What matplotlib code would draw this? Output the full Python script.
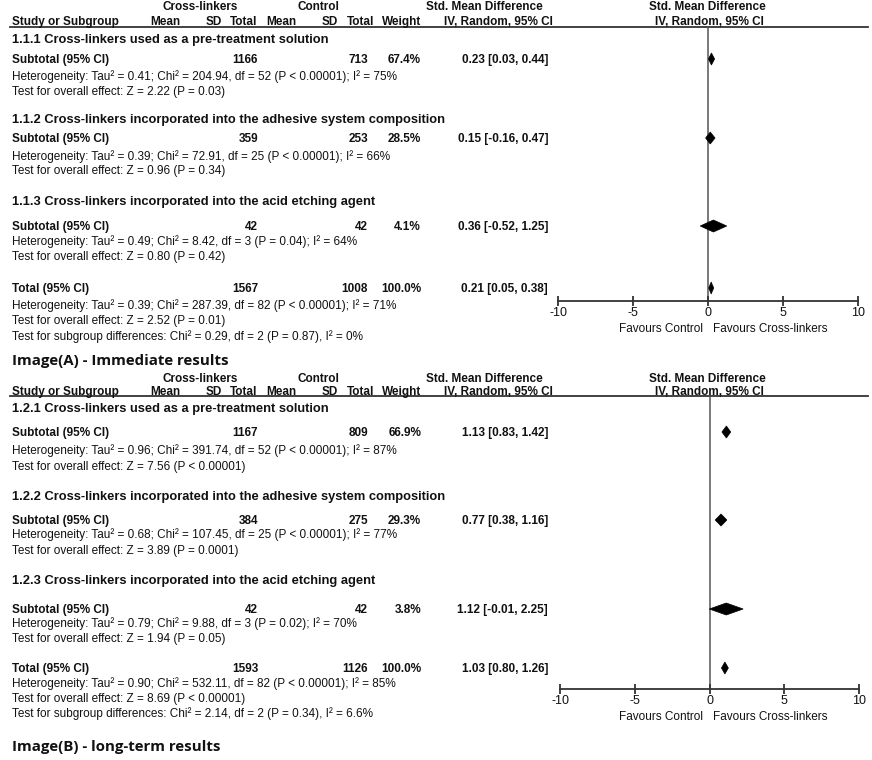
import matplotlib
matplotlib.use("Agg")
import matplotlib.pyplot as plt
from matplotlib.patches import Polygon

plt.rcParams['font.family'] = 'Liberation Sans'

# ---------------- data ----------------
groups_A = ["1.1.1 Cross-linkers used as a pre-treatment solution",
            "1.1.2 Cross-linkers incorporated into the adhesive system composition",
            "1.1.3 Cross-linkers incorporated into the acid etching agent"]
n_exp_A = [1166, 359, 42]
n_ctl_A = [713, 253, 42]
weight_A = [67.4, 28.5, 4.1]
smd_A = [0.23, 0.15, 0.36]
lo_A = [0.03, -0.16, -0.52]
hi_A = [0.44, 0.47, 1.25]
tau2_A = [0.41, 0.39, 0.49]
chi2_A = [204.94, 72.91, 8.42]
df_A = [52, 25, 3]
phet_A = ["P < 0.00001", "P < 0.00001", "P = 0.04"]
i2_A = ["75%", "66%", "64%"]
z_A = [2.22, 0.96, 0.80]
pz_A = ["P = 0.03", "P = 0.34", "P = 0.42"]
total_A = dict(n_exp=1567, n_ctl=1008, weight=100.0, smd=0.21, lo=0.05, hi=0.38,
               tau2=0.39, chi2=287.39, df=82, phet="P < 0.00001", i2="71%",
               z=2.52, pz="P = 0.01", sg="Chi² = 0.29, df = 2 (P = 0.87), I² = 0%")

groups_B = ["1.2.1 Cross-linkers used as a pre-treatment solution",
            "1.2.2 Cross-linkers incorporated into the adhesive system composition",
            "1.2.3 Cross-linkers incorporated into the acid etching agent"]
n_exp_B = [1167, 384, 42]
n_ctl_B = [809, 275, 42]
weight_B = [66.9, 29.3, 3.8]
smd_B = [1.13, 0.77, 1.12]
lo_B = [0.83, 0.38, -0.01]
hi_B = [1.42, 1.16, 2.25]
tau2_B = [0.96, 0.68, 0.79]
chi2_B = [391.74, 107.45, 9.88]
df_B = [52, 25, 3]
phet_B = ["P < 0.00001", "P < 0.00001", "P = 0.02"]
i2_B = ["87%", "77%", "70%"]
z_B = [7.56, 3.89, 1.94]
pz_B = ["P < 0.00001", "P = 0.0001", "P = 0.05"]
total_B = dict(n_exp=1593, n_ctl=1126, weight=100.0, smd=1.03, lo=0.80, hi=1.26,
               tau2=0.90, chi2=532.11, df=82, phet="P < 0.00001", i2="85%",
               z=8.69, pz="P < 0.00001", sg="Chi² = 2.14, df = 2 (P = 0.34), I² = 6.6%")

ticks = [-10, -5, 0, 5, 10]
captions = ["Image(A) - Immediate results", "Image(B) - long-term results"]

# ---------------- layout ----------------
W, H = 872, 760
fig = plt.figure(figsize=(W / 100, H / 100), dpi=100)
bg = fig.add_axes([0, 0, 1, 1])
bg.set_xlim(0, W)
bg.set_ylim(H, 0)
bg.axis('off')

FS = 8.5      # normal text
FB = 8.5      # bold text
FG = 9.3      # group headings
TXT = '#111111'

layouts = [
    dict(h1=6, h2=21, line=27, grp=[38, 118, 200], sub=[59, 138, 226],
         het=[75.5, 155.5, 241], tst=[90.5, 170, 256], tot=288, thet=304.5,
         ttst=320, tsg=336, cap=360, axis=301, x0=558, x1=858,
         fav_y=328),
    dict(h1=378, h2=391, line=396, grp=[407, 495, 579], sub=[432, 520, 609],
         het=[450, 534, 623], tst=[465.5, 550, 638], tot=668, thet=683,
         ttst=698, tsg=713, cap=745, axis=689, x0=560, x1=859,
         fav_y=716),
]

panels = [
    (groups_A, n_exp_A, n_ctl_A, weight_A, smd_A, lo_A, hi_A, tau2_A, chi2_A,
     df_A, phet_A, i2_A, z_A, pz_A, total_A),
    (groups_B, n_exp_B, n_ctl_B, weight_B, smd_B, lo_B, hi_B, tau2_B, chi2_B,
     df_B, phet_B, i2_B, z_B, pz_B, total_B),
]


def t(x, y, s, bold=False, ha='left', va='baseline', size=None):
    # y is the visual centre of capitals; convert to baseline
    fs = size if size else (FB if bold else FS)
    yb = y + 0.36 * fs * 100 / 72
    bg.text(x, yb, s, ha=ha, va=va, color=TXT, fontsize=fs,
            fontweight='bold' if bold else 'normal')


def diamond(ax, est, lo, hi, y, half=6):
    ax.add_patch(Polygon([(lo, y), (est, y - half), (hi, y), (est, y + half)],
                         closed=True, facecolor='black', edgecolor='black', lw=0.5))


for p, (L, P) in enumerate(zip(layouts, panels)):
    (groups, ne, nc, wt, smd, lo, hi, tau2, chi2, dfs, phet, i2, z, pz, tot) = P

    # headers
    t(200, L['h1'], "Cross-linkers", bold=True, ha='center')
    t(318, L['h1'], "Control", bold=True, ha='center')
    t(484, L['h1'], "Std. Mean Difference", bold=True, ha='center')
    t(707, L['h1'], "Std. Mean Difference", bold=True, ha='center')
    hy = L['h2']
    for x, s, ha in [(12, "Study or Subgroup", 'left'), (165, "Mean", 'center'),
                     (214, "SD", 'center'), (244, "Total", 'center'),
                     (281, "Mean", 'center'), (330, "SD", 'center'),
                     (361, "Total", 'center'), (402, "Weight", 'center'),
                     (498, "IV, Random, 95% CI", 'center'),
                     (709, "IV, Random, 95% CI", 'center')]:
        t(x, hy, s, bold=True, ha=ha)
    bg.plot([10, 868], [L['line'], L['line']], color='#333333', lw=1.3)

    # forest axes (x in SMD units, y in pixel rows)
    ax = fig.add_axes([L['x0'] / W, 1 - L['axis'] / H,
                       (L['x1'] - L['x0']) / W, (L['axis'] - L['line']) / H])
    ax.set_xlim(ticks[0], ticks[-1])
    ax.set_ylim(L['axis'], L['line'])
    ax.patch.set_alpha(0)
    for s in ['top', 'left', 'right']:
        ax.spines[s].set_visible(False)
    ax.spines['bottom'].set_color('#333333')
    ax.spines['bottom'].set_linewidth(1.3)
    ax.set_yticks([])
    ax.set_xticks(ticks)
    ax.set_xticklabels([str(v) for v in ticks])
    ax.tick_params(axis='x', direction='inout', length=7, width=1.3,
                   color='#333333', labelsize=9, pad=1, labelcolor=TXT)
    ax.axvline(0, color='#555555', lw=1.1, zorder=0)

    for i in range(3):
        t(12, L['grp'][i], groups[i], bold=True, size=FG)
        t(12, L['sub'][i], "Subtotal (95% CI)", bold=True)
        t(258, L['sub'][i], str(ne[i]), bold=True, ha='right')
        t(368, L['sub'][i], str(nc[i]), bold=True, ha='right')
        t(421, L['sub'][i], f"{wt[i]:.1f}%", bold=True, ha='right')
        t(548, L['sub'][i], f"{smd[i]:.2f} [{lo[i]:.2f}, {hi[i]:.2f}]", bold=True, ha='right')
        t(12, L['het'][i], f"Heterogeneity: Tau² = {tau2[i]:.2f}; Chi² = {chi2[i]:.2f}, "
                           f"df = {dfs[i]} ({phet[i]}); I² = {i2[i]}")
        t(12, L['tst'][i], f"Test for overall effect: Z = {z[i]:.2f} ({pz[i]})")
        diamond(ax, smd[i], lo[i], hi[i], L['sub'][i])

    t(12, L['tot'], "Total (95% CI)", bold=True)
    t(258, L['tot'], str(tot['n_exp']), bold=True, ha='right')
    t(368, L['tot'], str(tot['n_ctl']), bold=True, ha='right')
    t(421, L['tot'], f"{tot['weight']:.1f}%", bold=True, ha='right')
    t(548, L['tot'], f"{tot['smd']:.2f} [{tot['lo']:.2f}, {tot['hi']:.2f}]", bold=True, ha='right')
    t(12, L['thet'], f"Heterogeneity: Tau² = {tot['tau2']:.2f}; Chi² = {tot['chi2']:.2f}, "
                     f"df = {tot['df']} ({tot['phet']}); I² = {tot['i2']}")
    t(12, L['ttst'], f"Test for overall effect: Z = {tot['z']:.2f} ({tot['pz']})")
    t(12, L['tsg'], f"Test for subgroup differences: {tot['sg']}")
    diamond(ax, tot['smd'], tot['lo'], tot['hi'], L['tot'])

    t(703, L['fav_y'], "Favours Control", ha='right', size=8.5)
    t(713, L['fav_y'], "Favours Cross-linkers", ha='left', size=8.5)

    bg.text(12, L['cap'], captions[p], ha='left', va='center_baseline', color='#111111',
            fontsize=10.8, fontweight='bold', family='Open Sans')

fig.savefig("out.png", dpi=100, facecolor='white')
